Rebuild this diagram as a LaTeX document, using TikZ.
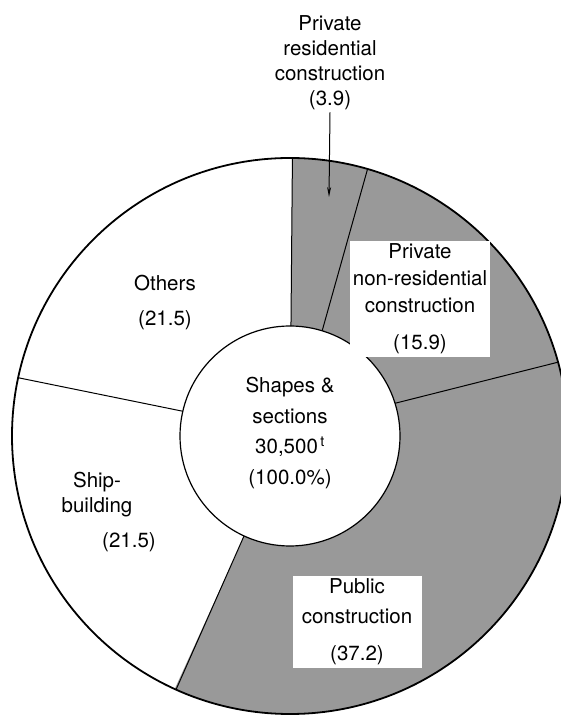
\documentclass[tikz,border=0pt]{standalone}
\usepackage{fontspec}
\setmainfont{TeX Gyre Heros}
\usetikzlibrary{arrows.meta,positioning}

\begin{document}
\begin{tikzpicture}
  [x=1pt,y=1pt,
   every node/.style={align=center,font=\fontsize{20.5}{25}\selectfont,inner sep=2pt},
   boxed/.style={fill=white,inner sep=3pt},
   shaded/.style={fill=black!40}]
  \useasboundingbox (0,0) rectangle (561,715);
  \fill[white] (0,0) rectangle (561,715);
  \clip (0,0) rectangle (561,715);

  % ring of sectors
  \begin{scope}[shift={(290,279)}]
    \fill[shaded] (89.5:278) arc[start angle=89.5,end angle=-114.5,radius=278]
      -- (-114.5:110) arc[start angle=-114.5,end angle=89.5,radius=110] -- cycle;
    \draw[line width=1.8pt] (0,0) circle[radius=278];
    \draw[line width=1.2pt,fill=white] (0,0) circle[radius=110];
    \foreach \a/\b in {89.5/89.5,73/73.8,17.3/15.4,-114.7/-114.2,167/167.9}
      \draw[line width=1pt] (\a:110) -- (\b:278);
  \end{scope}

  \node (res) at (330,652) {Private\\residential\\construction\\(3.9)};
  \coordinate (resTip) at (329,518);
  \draw[line width=1pt,-{Stealth[length=10pt,width=4pt]}] (res.south) -- (resTip);

  \node[boxed,font=\fontsize{20.5}{27}\selectfont] (nonres) at (420,416) {Private\\non-residential\\construction\\[10pt](15.9)};
  \node (others) at (165,412) {Others\\[10pt](21.5)};
  \node[font=\fontsize{20.5}{30.5}\selectfont] (total) at (290,282) {Shapes \&\\sections\\30,500\textsuperscript{\,t}\\(100.0\%)};
  \node (ship) at (97,220) {Ship-\\building};
  \node (shipval) at (129,173) {(21.5)};
  \node[boxed,minimum width=129,minimum height=90,font=\fontsize{20.5}{30}\selectfont] (public) at (357,93) {Public\\construction\\[7pt](37.2)};
\end{tikzpicture}
\end{document}
